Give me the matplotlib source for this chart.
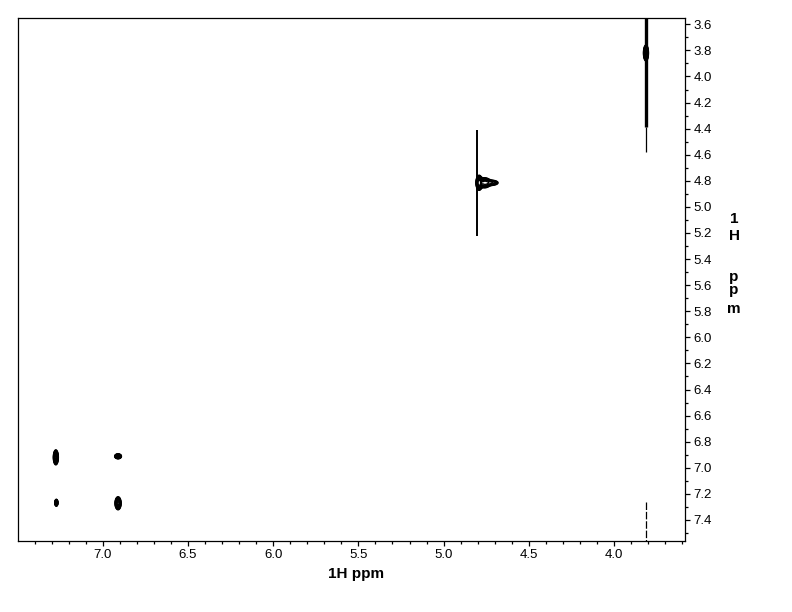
import numpy as np
import matplotlib
matplotlib.use("Agg")
import matplotlib.pyplot as plt
from matplotlib.ticker import MultipleLocator, FormatStrFormatter

plt.rcParams['font.family'] = ['Liberation Sans', 'DejaVu Sans']

# ---- data: cross / diagonal peaks (ppm) ----
peak_f2 = [3.813, 4.792, 4.760, 4.715, 7.275, 6.910, 7.272, 6.910]
peak_f1 = [3.820, 4.815, 4.815, 4.815, 6.920, 6.912, 7.268, 7.272]
peak_sig_f2 = [0.0070, 0.0085, 0.020, 0.022, 0.0070, 0.0095, 0.0045, 0.0085]
peak_sig_f1 = [0.0290, 0.0270, 0.022, 0.012, 0.0270, 0.0090, 0.0125, 0.0235]
peak_amp = [10.0, 10.0, 5.0, 3.5, 10.0, 10.0, 10.0, 10.0]
contour_levels = [1.0, 1.25, 1.55, 1.9, 2.4, 3.0, 3.7, 4.6, 5.7, 7.0, 8.5]

# ---- data: t1-noise streaks (ppm) ----
streak_f2 = [3.813, 3.813, 4.805, 3.813]
streak_f1_start = [3.554, 4.39, 4.41, 7.263]
streak_f1_end = [4.39, 4.58, 5.22, 7.56]
streak_width = [2.4, 0.9, 1.4, 0.9]
streak_style = ['solid', 'solid', 'solid', (0, (6, 1.5))]

xlim = (7.497, 3.584)
ylim = (7.559, 3.554)

fig = plt.figure(figsize=(7.92, 6.12), dpi=100)
ax = fig.add_axes([18/792, 1-540.7/612, (685-18)/792, (540.7-18.3)/612])

gx = np.linspace(3.55, 7.55, 2200)
gy = np.linspace(3.50, 7.60, 1800)
X, Y = np.meshgrid(gx, gy)
Z = np.zeros_like(X)
for x0, y0, sx, sy, a in zip(peak_f2, peak_f1, peak_sig_f2, peak_sig_f1, peak_amp):
    Z += a*np.exp(-0.5*((X-x0)/sx)**2 - 0.5*((Y-y0)/sy)**2)
ax.contour(X, Y, Z, levels=contour_levels, colors='black', linewidths=0.9)

for x0, y0, y1, lw, ls in zip(streak_f2, streak_f1_start, streak_f1_end, streak_width, streak_style):
    ax.plot([x0, x0], [y0, y1], color='black', lw=lw, linestyle=ls, solid_capstyle='butt')

ax.set_xlim(*xlim)
ax.set_ylim(*ylim)

ax.xaxis.set_major_locator(MultipleLocator(0.5))
ax.xaxis.set_minor_locator(MultipleLocator(0.1))
ax.xaxis.set_major_formatter(FormatStrFormatter('%.1f'))
ax.yaxis.set_major_locator(MultipleLocator(0.2))
ax.yaxis.set_minor_locator(MultipleLocator(0.1))
ax.yaxis.set_major_formatter(FormatStrFormatter('%.1f'))
ax.yaxis.tick_right()
ax.tick_params(axis='both', which='major', direction='out', length=3.8, width=0.9,
               labelsize=9.5, pad=2.5, colors='black')
ax.tick_params(axis='both', which='minor', direction='out', length=2.0, width=0.9)
ax.tick_params(axis='x', which='both', top=False, bottom=True)
ax.tick_params(axis='y', which='both', left=False, right=True)
for s in ax.spines.values():
    s.set_linewidth(0.9)

fig.text(356/792, 1-574/612, '1H ppm', ha='center', va='center', fontsize=11, fontweight='bold')
ylab_chars = ['1', 'H', 'p', 'p', 'm']
ylab_base = [223, 240, 281, 294, 313]
for c, yb in zip(ylab_chars, ylab_base):
    fig.text(734/792, 1-yb/612, c, ha='center', va='baseline', fontsize=11, fontweight='bold')

fig.savefig('out.png', dpi=100, facecolor='white')
